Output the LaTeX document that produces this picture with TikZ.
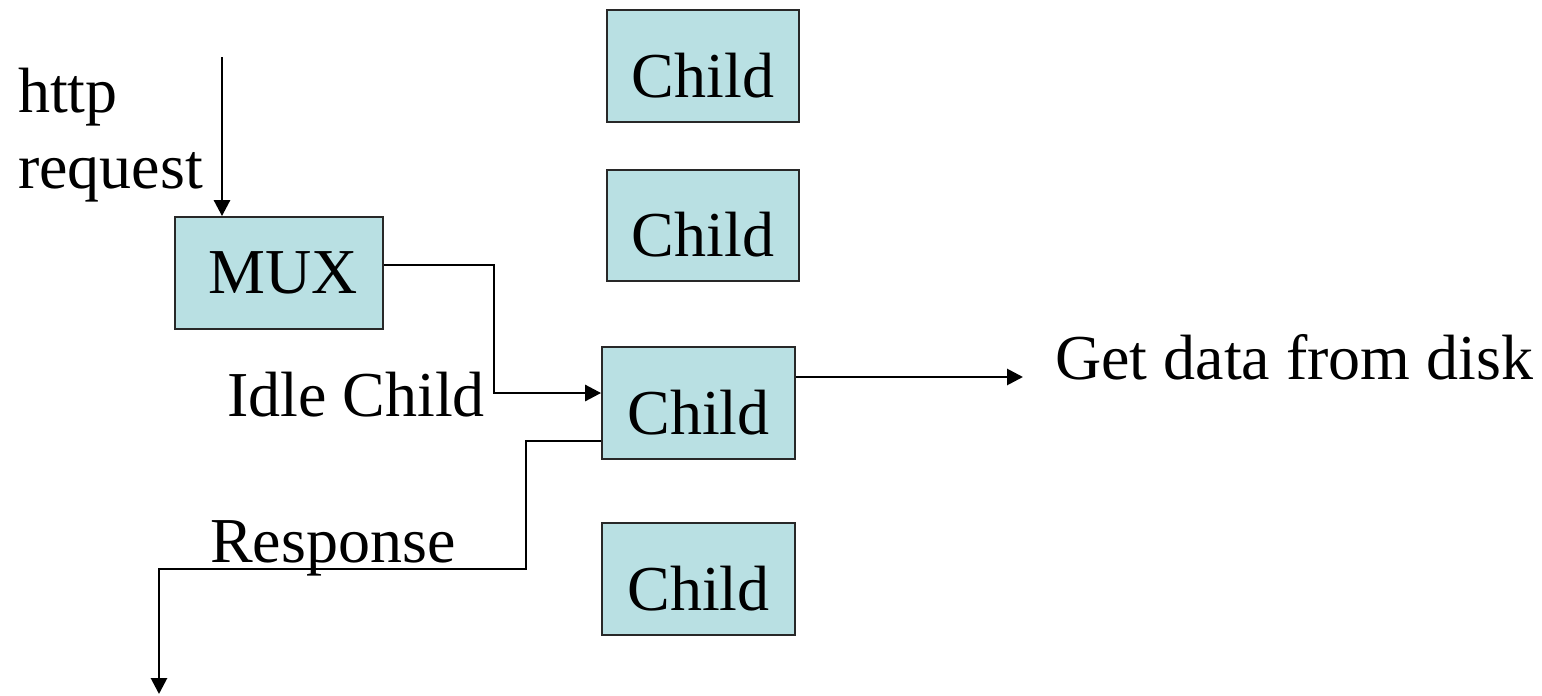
\documentclass[tikz,border=0pt]{standalone}
\usepackage{fontspec}
\setmainfont{Liberation Serif}
\usetikzlibrary{arrows.meta}
\definecolor{boxfill}{RGB}{185,224,227}
\definecolor{boxline}{RGB}{40,40,40}
\tikzset{
  blk/.style={draw=boxline, fill=boxfill, line width=1.8pt, inner sep=0pt},
  chld/.style={blk, text height=62pt, text depth=0pt},
  lbl/.style={inner sep=0pt, anchor=base west},
  conn/.style={line width=2.8pt, line join=miter},
  arr/.style={conn, -{Triangle[length=16pt,width=16pt]}}
}
\begin{document}
\begin{tikzpicture}[x=1pt,y=-1pt,font=\fontsize{64}{77}\selectfont]
\useasboundingbox (0,0) rectangle (1542,696);
% boxes
\node[chld, minimum width=192pt, minimum height=112pt] (c1) at (703,66) {Child};
\node[chld, minimum width=192pt, minimum height=111pt] (c2) at (703,225.5) {Child};
\node[blk, minimum width=208pt, minimum height=112pt] (mux) at (279,273) {\hspace*{8pt}MUX};
\node[chld, minimum width=193pt, minimum height=112pt] (c3) at (698.5,403) {Child};
\node[chld, minimum width=193pt, minimum height=112pt] (c4) at (698.5,579) {Child};
% labels
\node[lbl] (http) at (18,112) {http};
\node[lbl] (req) at (18,188) {request};
\node[lbl] (idle) at (227,416) {Idle Child};
\node[lbl] (resp) at (210,562) {Response};
\node[lbl] (disk) at (1055,379) {Get data from disk};
% coordinates
\coordinate (in) at (222,57);
\coordinate (bend1) at (494,265);
\coordinate (bend2) at (494,393);
\coordinate (bend3) at (526,441);
\coordinate (bend4) at (526,569);
\coordinate (bend5) at (159,569);
\coordinate (out) at (159,694);
\coordinate (diskend) at (1023,377);
% connectors
\draw[arr] (in) -- (in |- mux.north);
\draw[arr] (mux.east |- bend1) -- (bend1) -- (bend2) -- (c3.west |- bend2);
\draw[arr] (c3.west |- bend3) -- (bend3) -- (bend4) -- (bend5) -- (out);
\draw[arr] (c3.east |- diskend) -- (diskend);
\end{tikzpicture}
\end{document}
